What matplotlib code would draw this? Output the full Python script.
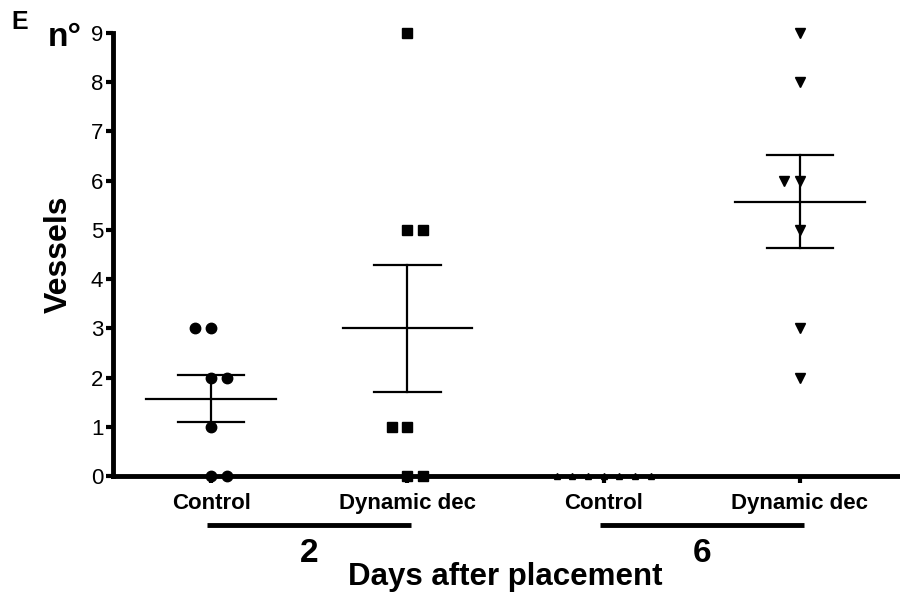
import matplotlib
matplotlib.use("Agg")
import matplotlib.pyplot as plt
import matplotlib.transforms as mtransforms
import numpy as np

plt.rcParams['font.family'] = ['Liberation Sans', 'DejaVu Sans']

# ---- data ----
categories = ["Control", "Dynamic dec", "Control", "Dynamic dec"]
days = ["2", "6"]
ctrl_d2 = [3, 3, 2, 2, 1, 0, 0]
dyn_d2 = [9, 5, 5, 1, 1, 0, 0]
ctrl_d6 = [0, 0, 0, 0, 0, 0, 0]
dyn_d6 = [9, 8, 6, 6, 5, 3, 2]
yticks = list(range(0, 10))

# ---- layout / style ----
groups = [ctrl_d2, dyn_d2, ctrl_d6, dyn_d6]
markers = ['o', 's', '^', 'v']
msizes = [7.5, 7, 4, 7]
step = 0.08
offsets = [
    [-1, 0, 0, 1, 0, 0, 1],
    [0, 0, 1, -1, 0, 0, 1],
    [-3, -2, -1, 0, 1, 2, 3],
    [0, 0, -1, 0, 0, 0, 0],
]

fig = plt.figure(figsize=(9, 5.94), dpi=100)
ax = fig.add_axes([113/900, 1-476/594, 785/900, 443/594])

for i, vals in enumerate(groups):
    v = np.array(vals, dtype=float)
    xs = i + np.array(offsets[i]) * step
    ax.plot(xs, v, linestyle='none', marker=markers[i], color='black',
            markersize=msizes[i], clip_on=False, zorder=3)
    m = v.mean()
    sem = v.std(ddof=1) / np.sqrt(len(v))
    ax.plot([i - 0.33, i + 0.33], [m, m], color='black', lw=1.6, zorder=2)
    if sem > 0:
        ax.plot([i - 0.17, i + 0.17], [m + sem, m + sem], color='black', lw=1.6, zorder=2)
        ax.plot([i - 0.17, i + 0.17], [m - sem, m - sem], color='black', lw=1.6, zorder=2)
        ax.plot([i, i], [m - sem, m + sem], color='black', lw=1.6, zorder=2)

ax.set_xlim(-0.5, 3.5)
ax.set_ylim(0, 9)
ax.set_yticks(yticks)
ax.set_yticklabels([str(t) for t in yticks], fontsize=16)
ax.set_xticks(range(4))
ax.set_xticklabels(categories, fontsize=16, fontweight='bold')
for s in ['top', 'right']:
    ax.spines[s].set_visible(False)
ax.spines['left'].set_linewidth(3.5)
ax.spines['bottom'].set_linewidth(3.5)
ax.tick_params(axis='y', length=5, width=3, pad=2)
ax.tick_params(axis='x', length=5, width=3, pad=7)

ax.set_ylabel("Vessels", fontsize=23, fontweight='bold', labelpad=12)

trans = mtransforms.blended_transform_factory(ax.transData, ax.transAxes)
for j, d in enumerate(days):
    c = 2 * j + 0.5
    ax.plot([c - 0.52, c + 0.52], [-0.11, -0.11], color='black', lw=3.5,
            transform=trans, clip_on=False, solid_capstyle='butt')
    ax.text(c, -0.175, d, transform=trans, ha='center', va='center',
            fontsize=24, fontweight='bold')

fig.text(505/900, 1-577/594, "Days after placement", ha='center', va='center',
         fontsize=22.5, fontweight='bold')
fig.text(65/900, 1-38/594, "n°", ha='center', va='center', fontsize=24, fontweight='bold')
fig.text(20/900, 1-22/594, "E", ha='center', va='center', fontsize=18, fontweight='bold')

fig.savefig("out.png", dpi=100)
